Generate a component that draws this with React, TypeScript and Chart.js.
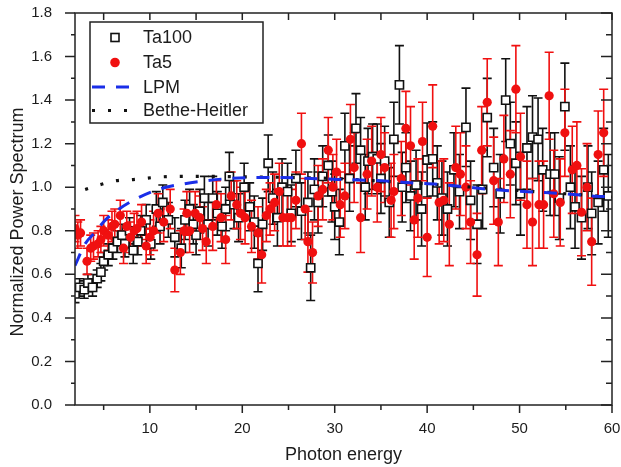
import React, { useEffect, useRef } from 'react';
import { Chart, registerables } from 'chart.js';

Chart.register(...registerables);

// ---- data ----
const ta100X = [1.9, 2.4, 2.9, 3.3, 3.8, 4.3, 4.7, 5.0, 5.5, 6.0, 6.5, 7.0, 7.3, 7.8, 8.2, 8.7, 9.0, 9.6, 10.1, 10.7, 11.1, 11.4, 12.0, 12.7, 13.4, 13.8, 14.3, 14.7, 15.0, 15.4, 15.9, 16.3, 16.8, 17.3, 17.8, 18.2, 18.6, 19.1, 19.6, 20.2, 20.8, 21.3, 21.7, 22.2, 22.8, 23.3, 23.8, 24.3, 24.9, 25.3, 25.8, 26.4, 27.1, 27.4, 27.8, 28.2, 28.7, 29.3, 29.7, 30.0, 30.5, 31.1, 31.6, 32.3, 32.8, 33.3, 33.6, 34.1, 34.6, 35.0, 35.4, 35.9, 36.4, 37.0, 37.3, 37.7, 38.2, 38.8, 39.4, 40.0, 40.6, 41.1, 41.6, 42.2, 42.9, 43.5, 44.2, 44.7, 45.4, 46.0, 46.5, 47.2, 47.9, 48.5, 49.0, 49.6, 50.1, 50.8, 51.4, 52.0, 52.5, 53.3, 53.8, 54.3, 54.9, 55.5, 56.0, 56.7, 57.4, 57.8, 58.5, 59.1, 59.6];
const ta100Y = [0.51, 0.54, 0.53, 0.56, 0.54, 0.58, 0.61, 0.66, 0.69, 0.72, 0.75, 0.78, 0.74, 0.80, 0.71, 0.75, 0.80, 0.85, 0.74, 0.90, 0.82, 0.93, 0.85, 0.77, 0.72, 0.85, 0.90, 0.83, 0.78, 0.89, 0.95, 0.83, 0.95, 0.88, 0.82, 0.90, 1.05, 0.92, 0.86, 1.00, 0.91, 0.84, 0.65, 0.83, 1.11, 0.95, 0.86, 1.00, 0.98, 0.88, 1.04, 0.89, 0.93, 0.63, 0.99, 0.93, 1.05, 1.10, 0.98, 0.91, 0.84, 1.19, 1.04, 1.27, 1.17, 1.00, 1.12, 1.14, 1.13, 1.04, 1.12, 0.93, 1.22, 1.47, 1.00, 1.09, 0.96, 1.01, 0.90, 1.125, 1.13, 1.02, 0.95, 0.90, 1.08, 0.98, 1.275, 0.94, 0.83, 0.99, 1.32, 1.09, 0.97, 1.40, 1.20, 1.11, 0.97, 1.18, 1.23, 1.22, 1.08, 1.06, 1.06, 0.95, 1.37, 1.00, 0.91, 0.86, 1.00, 0.88, 0.93, 1.08, 0.96];
const ta100Err = [0.04, 0.04, 0.04, 0.04, 0.04, 0.04, 0.04, 0.04, 0.05, 0.05, 0.05, 0.05, 0.06, 0.06, 0.06, 0.06, 0.07, 0.07, 0.07, 0.08, 0.08, 0.08, 0.08, 0.09, 0.09, 0.09, 0.09, 0.09, 0.09, 0.10, 0.10, 0.10, 0.10, 0.10, 0.10, 0.10, 0.11, 0.11, 0.11, 0.11, 0.11, 0.12, 0.13, 0.12, 0.13, 0.12, 0.13, 0.13, 0.13, 0.13, 0.13, 0.13, 0.14, 0.15, 0.14, 0.14, 0.14, 0.14, 0.14, 0.15, 0.15, 0.15, 0.15, 0.16, 0.15, 0.15, 0.15, 0.15, 0.16, 0.16, 0.16, 0.16, 0.17, 0.18, 0.16, 0.16, 0.16, 0.16, 0.17, 0.17, 0.17, 0.17, 0.17, 0.17, 0.17, 0.17, 0.18, 0.18, 0.18, 0.18, 0.18, 0.18, 0.18, 0.19, 0.19, 0.19, 0.19, 0.19, 0.19, 0.19, 0.19, 0.19, 0.19, 0.19, 0.20, 0.19, 0.19, 0.19, 0.19, 0.19, 0.19, 0.19, 0.19];

const ta5X = [1.9, 2.2, 2.5, 3.2, 3.6, 3.9, 4.4, 4.7, 5.0, 5.5, 5.9, 6.2, 6.8, 7.15, 7.5, 7.9, 8.3, 8.6, 9.1, 9.6, 10.0, 10.4, 10.9, 11.5, 12.2, 12.7, 13.3, 13.7, 14.0, 14.3, 14.9, 15.4, 15.7, 16.1, 16.8, 17.2, 17.7, 18.2, 18.8, 19.4, 19.8, 20.3, 21.0, 21.7, 22.1, 22.6, 23.0, 23.5, 24.0, 24.4, 24.9, 25.3, 25.8, 26.4, 26.8, 27.1, 27.6, 28.2, 28.7, 29.3, 29.8, 30.2, 30.6, 31.1, 31.7, 32.1, 32.8, 33.5, 34.0, 34.6, 35.0, 35.4, 36.1, 36.4, 37.2, 37.7, 38.2, 38.6, 39.0, 39.5, 40.0, 40.6, 41.3, 41.8, 42.4, 43.1, 43.6, 44.2, 44.7, 45.4, 45.9, 46.5, 47.2, 47.7, 48.3, 49.0, 49.6, 50.1, 50.8, 51.4, 52.1, 52.6, 53.2, 53.7, 54.4, 54.9, 55.7, 56.2, 56.7, 57.3, 57.8, 58.5, 59.1];
const ta5Y = [0.81, 0.78, 0.79, 0.66, 0.72, 0.73, 0.74, 0.76, 0.80, 0.78, 0.82, 0.83, 0.87, 0.72, 0.82, 0.77, 0.80, 0.81, 0.84, 0.73, 0.77, 0.80, 0.88, 0.84, 0.90, 0.62, 0.70, 0.80, 0.88, 0.80, 0.88, 0.86, 0.81, 0.75, 0.82, 0.92, 0.86, 0.76, 0.96, 0.92, 0.88, 0.86, 0.82, 0.79, 0.69, 0.87, 0.90, 0.93, 0.98, 0.86, 0.86, 0.86, 0.94, 1.20, 0.90, 0.75, 0.70, 0.96, 0.99, 1.17, 1.00, 1.07, 0.92, 0.96, 1.22, 1.09, 0.86, 1.06, 1.12, 1.00, 1.15, 1.09, 0.94, 0.98, 1.04, 1.27, 1.19, 0.85, 0.95, 1.21, 0.77, 1.28, 0.93, 0.94, 0.83, 1.09, 1.06, 1.00, 0.84, 0.69, 1.17, 1.39, 1.03, 0.84, 1.13, 1.06, 1.45, 1.14, 0.92, 0.84, 0.92, 0.92, 1.42, 0.97, 0.93, 1.25, 1.08, 1.10, 0.885, 1.00, 0.75, 1.15, 1.25];
const ta5Err = [0.06, 0.06, 0.06, 0.06, 0.06, 0.06, 0.06, 0.06, 0.07, 0.07, 0.07, 0.07, 0.07, 0.07, 0.07, 0.07, 0.08, 0.08, 0.08, 0.08, 0.08, 0.09, 0.09, 0.09, 0.09, 0.10, 0.10, 0.10, 0.10, 0.10, 0.10, 0.10, 0.10, 0.10, 0.11, 0.11, 0.11, 0.11, 0.11, 0.11, 0.12, 0.12, 0.12, 0.12, 0.13, 0.12, 0.12, 0.13, 0.13, 0.13, 0.13, 0.13, 0.13, 0.14, 0.14, 0.14, 0.14, 0.14, 0.14, 0.15, 0.15, 0.15, 0.15, 0.15, 0.16, 0.16, 0.16, 0.16, 0.16, 0.16, 0.17, 0.16, 0.17, 0.17, 0.17, 0.17, 0.18, 0.18, 0.18, 0.18, 0.18, 0.19, 0.19, 0.19, 0.19, 0.19, 0.19, 0.19, 0.19, 0.19, 0.20, 0.20, 0.20, 0.20, 0.20, 0.20, 0.20, 0.20, 0.20, 0.20, 0.20, 0.20, 0.20, 0.20, 0.20, 0.20, 0.20, 0.20, 0.20, 0.20, 0.20, 0.20, 0.20];

const lpmX = [1.9, 3.0, 4.0, 5.2, 6.0, 8.2, 10.9, 13.6, 16.1, 18.0, 21.7, 24.4, 27.4, 30.3, 32.8, 35.7, 38.2, 41.3, 44.0, 46.8, 49.4, 52.1, 54.9, 57.8, 60.0];
const lpmY = [0.64, 0.74, 0.79, 0.85, 0.88, 0.94, 0.99, 1.015, 1.03, 1.038, 1.045, 1.045, 1.04, 1.036, 1.033, 1.028, 1.02, 1.013, 1.002, 0.99, 0.983, 0.977, 0.97, 0.96, 0.956];

const bhX = [3.0, 4.5, 6.4, 8.2, 10.5, 12.9, 16.0, 20.0, 25.0, 30.0, 35.0, 40.0, 45.0, 50.0, 55.0, 60.0];
const bhY = [0.99, 1.01, 1.03, 1.035, 1.045, 1.05, 1.05, 1.048, 1.045, 1.04, 1.028, 1.015, 1.0, 0.985, 0.97, 0.955];

const xMajor = [10, 20, 30, 40, 50, 60];
const xMinor = [5, 15, 25, 35, 45, 55];
const yMajor = [0.0, 0.2, 0.4, 0.6, 0.8, 1.0, 1.2, 1.4, 1.6, 1.8];
const yMinor = [0.1, 0.3, 0.5, 0.7, 0.9, 1.1, 1.3, 1.5, 1.7];

const seriesLabels = ['Ta100', 'Ta5', 'LPM', 'Bethe-Heitler'];
const xTitle = 'Photon energy';
const yTitle = 'Normalized Power Spectrum';

const FONT = '"Liberation Sans", Arial, Helvetica, sans-serif';
const TEXT = '#1c1c1c';

const toPts = (xs: number[], ys: number[]) => xs.map((x, i) => ({ x, y: ys[i] }));

// error bars of all measured series, drawn beneath every marker
const errorBarPlugin = {
  id: 'errorBars',
  beforeDatasetsDraw(chart: any) {
    const { ctx, chartArea } = chart;
    const xs = chart.scales.x;
    const ys = chart.scales.y;
    ctx.save();
    ctx.beginPath();
    ctx.rect(chartArea.left, chartArea.top, chartArea.right - chartArea.left, chartArea.bottom - chartArea.top);
    ctx.clip();
    ctx.lineWidth = 1.6;
    const list = chart.data.datasets.filter((d: any) => d.errors).sort((a: any, b: any) => b.order - a.order);
    list.forEach((ds: any) => {
      ctx.strokeStyle = ds.errorColor;
      ds.data.forEach((p: any, i: number) => {
        const e = ds.errors[i];
        const px = xs.getPixelForValue(p.x);
        const t = ys.getPixelForValue(p.y + e);
        const b = ys.getPixelForValue(p.y - e);
        ctx.beginPath();
        ctx.moveTo(px, t);
        ctx.lineTo(px, b);
        ctx.moveTo(px - 4.5, t);
        ctx.lineTo(px + 4.5, t);
        ctx.moveTo(px - 4.5, b);
        ctx.lineTo(px + 4.5, b);
        ctx.stroke();
      });
    });
    ctx.restore();
  },
};

const framePlugin = {
  id: 'frameTicks',
  afterDatasetsDraw(chart: any) {
    const { ctx, chartArea } = chart;
    const { left, right, top, bottom } = chartArea;
    const xs = chart.scales.x;
    const ys = chart.scales.y;
    ctx.save();
    ctx.strokeStyle = '#222';
    ctx.lineWidth = 1.5;
    ctx.strokeRect(left, top, right - left, bottom - top);
    ctx.beginPath();
    const tick = (v: number, len: number, inLen: number, isX: boolean) => {
      if (isX) {
        const p = xs.getPixelForValue(v);
        ctx.moveTo(p, bottom);
        ctx.lineTo(p, bottom + len);
        ctx.moveTo(p, top);
        ctx.lineTo(p, top + inLen);
      } else {
        const p = ys.getPixelForValue(v);
        ctx.moveTo(left, p);
        ctx.lineTo(left - len, p);
        ctx.moveTo(right, p);
        ctx.lineTo(right - inLen, p);
      }
    };
    xMajor.forEach((v) => tick(v, 8, 7, true));
    xMinor.forEach((v) => tick(v, 5, 7, true));
    yMajor.forEach((v) => tick(v, 10, 11, false));
    yMinor.forEach((v) => tick(v, 4, 6, false));
    ctx.stroke();

    // y-axis title
    ctx.fillStyle = TEXT;
    ctx.font = `18px ${FONT}`;
    ctx.textAlign = 'center';
    ctx.textBaseline = 'middle';
    ctx.translate(18.5, 222);
    ctx.rotate(-Math.PI / 2);
    ctx.fillText(yTitle, 0, 0);
    ctx.restore();
  },
};

const legendPlugin = {
  id: 'boxLegend',
  afterDraw(chart: any) {
    const { ctx } = chart;
    const boxL = 90, boxT = 22, boxR = 263, boxB = 123;
    const rows = [37.5, 62.5, 87, 110.5];
    ctx.save();
    ctx.fillStyle = '#fff';
    ctx.fillRect(boxL, boxT, boxR - boxL, boxB - boxT);
    ctx.strokeStyle = '#222';
    ctx.lineWidth = 1.5;
    ctx.strokeRect(boxL, boxT, boxR - boxL, boxB - boxT);
    const dsByLabel = (l: string) => chart.data.datasets.find((d: any) => d.label === l);
    seriesLabels.forEach((label, i) => {
      const ds = dsByLabel(label);
      const y = rows[i];
      if (ds.type === 'line') {
        ctx.beginPath();
        ctx.setLineDash(ds.borderDash);
        ctx.strokeStyle = ds.borderColor;
        ctx.lineWidth = ds.borderWidth;
        ctx.moveTo(92, y);
        ctx.lineTo(132, y);
        ctx.stroke();
        ctx.setLineDash([]);
      } else if (ds.pointStyle === 'rect') {
        ctx.fillStyle = '#fff';
        ctx.strokeStyle = ds.borderColor;
        ctx.lineWidth = 1.6;
        ctx.fillRect(111, y - 4, 8, 8);
        ctx.strokeRect(111, y - 4, 8, 8);
      } else {
        ctx.fillStyle = ds.backgroundColor;
        ctx.beginPath();
        ctx.arc(115, y, 4.8, 0, Math.PI * 2);
        ctx.fill();
      }
      ctx.fillStyle = TEXT;
      ctx.font = `18px ${FONT}`;
      ctx.textBaseline = 'middle';
      ctx.textAlign = 'left';
      ctx.fillText(label, 143, y + 1);
    });
    ctx.restore();
  },
};

export default function App() {
  const ref = useRef<HTMLCanvasElement | null>(null);
  useEffect(() => {
    if (!ref.current) return;
    const chart = new Chart(ref.current, {
      type: 'scatter',
      data: {
        datasets: [
          {
            type: 'line',
            label: seriesLabels[2],
            data: toPts(lpmX, lpmY),
            borderColor: '#1a2ee8',
            borderWidth: 3,
            borderDash: [13, 11],
            pointRadius: 0,
            fill: false,
            cubicInterpolationMode: 'monotone',
            order: 0,
          } as any,
          {
            type: 'line',
            label: seriesLabels[3],
            data: toPts(bhX, bhY),
            borderColor: '#111',
            borderWidth: 3.2,
            borderDash: [3, 13],
            pointRadius: 0,
            fill: false,
            cubicInterpolationMode: 'monotone',
            order: 1,
          } as any,
          {
            label: seriesLabels[1],
            data: toPts(ta5X, ta5Y),
            errors: ta5Err,
            errorColor: '#f01010',
            pointStyle: 'circle',
            pointRadius: 4.6,
            backgroundColor: '#f01010',
            borderColor: '#f01010',
            borderWidth: 0,
            showLine: false,
            order: 2,
          } as any,
          {
            label: seriesLabels[0],
            data: toPts(ta100X, ta100Y),
            errors: ta100Err,
            errorColor: '#111',
            pointStyle: 'rect',
            pointRadius: 5.8,
            backgroundColor: '#fff',
            borderColor: '#111',
            borderWidth: 1.6,
            showLine: false,
            order: 3,
          } as any,
        ],
      },
      options: {
        animation: false,
        responsive: true,
        maintainAspectRatio: false,
        layout: { padding: { top: 13, right: 9, left: 0, bottom: 0 } },
        plugins: {
          legend: { display: false },
          tooltip: { enabled: false },
        },
        scales: {
          x: {
            type: 'linear',
            min: 1.9,
            max: 60,
            grid: { display: false },
            border: { display: false },
            afterBuildTicks: (axis: any) => {
              axis.ticks = xMajor.map((v) => ({ value: v }));
            },
            afterFit: (s: any) => {
              s.height = 62;
              s.paddingLeft = 0;
              s.paddingRight = 0;
            },
            ticks: {
              color: TEXT,
              font: { family: FONT, size: 15 },
              padding: 7,
              maxRotation: 0,
            },
            title: {
              display: true,
              text: xTitle,
              color: TEXT,
              font: { family: FONT, size: 18 },
              padding: { top: 0, bottom: 1 },
            },
          },
          y: {
            type: 'linear',
            min: 0,
            max: 1.8,
            grid: { display: false },
            border: { display: false },
            afterBuildTicks: (axis: any) => {
              axis.ticks = yMajor.map((v) => ({ value: v }));
            },
            afterFit: (s: any) => {
              s.width = 75;
              s.paddingTop = 0;
              s.paddingBottom = 0;
            },
            ticks: {
              color: TEXT,
              font: { family: FONT, size: 15 },
              padding: 15,
              callback: (v: any) => Number(v).toFixed(1),
            },
          },
        },
      },
      plugins: [errorBarPlugin, framePlugin, legendPlugin],
    });
    return () => chart.destroy();
  }, []);
  return (
    <div style={{ position: 'absolute', left: 0, top: 0, width: 621, height: 467, background: '#fff' }}>
      <canvas ref={ref} />
    </div>
  );
}
